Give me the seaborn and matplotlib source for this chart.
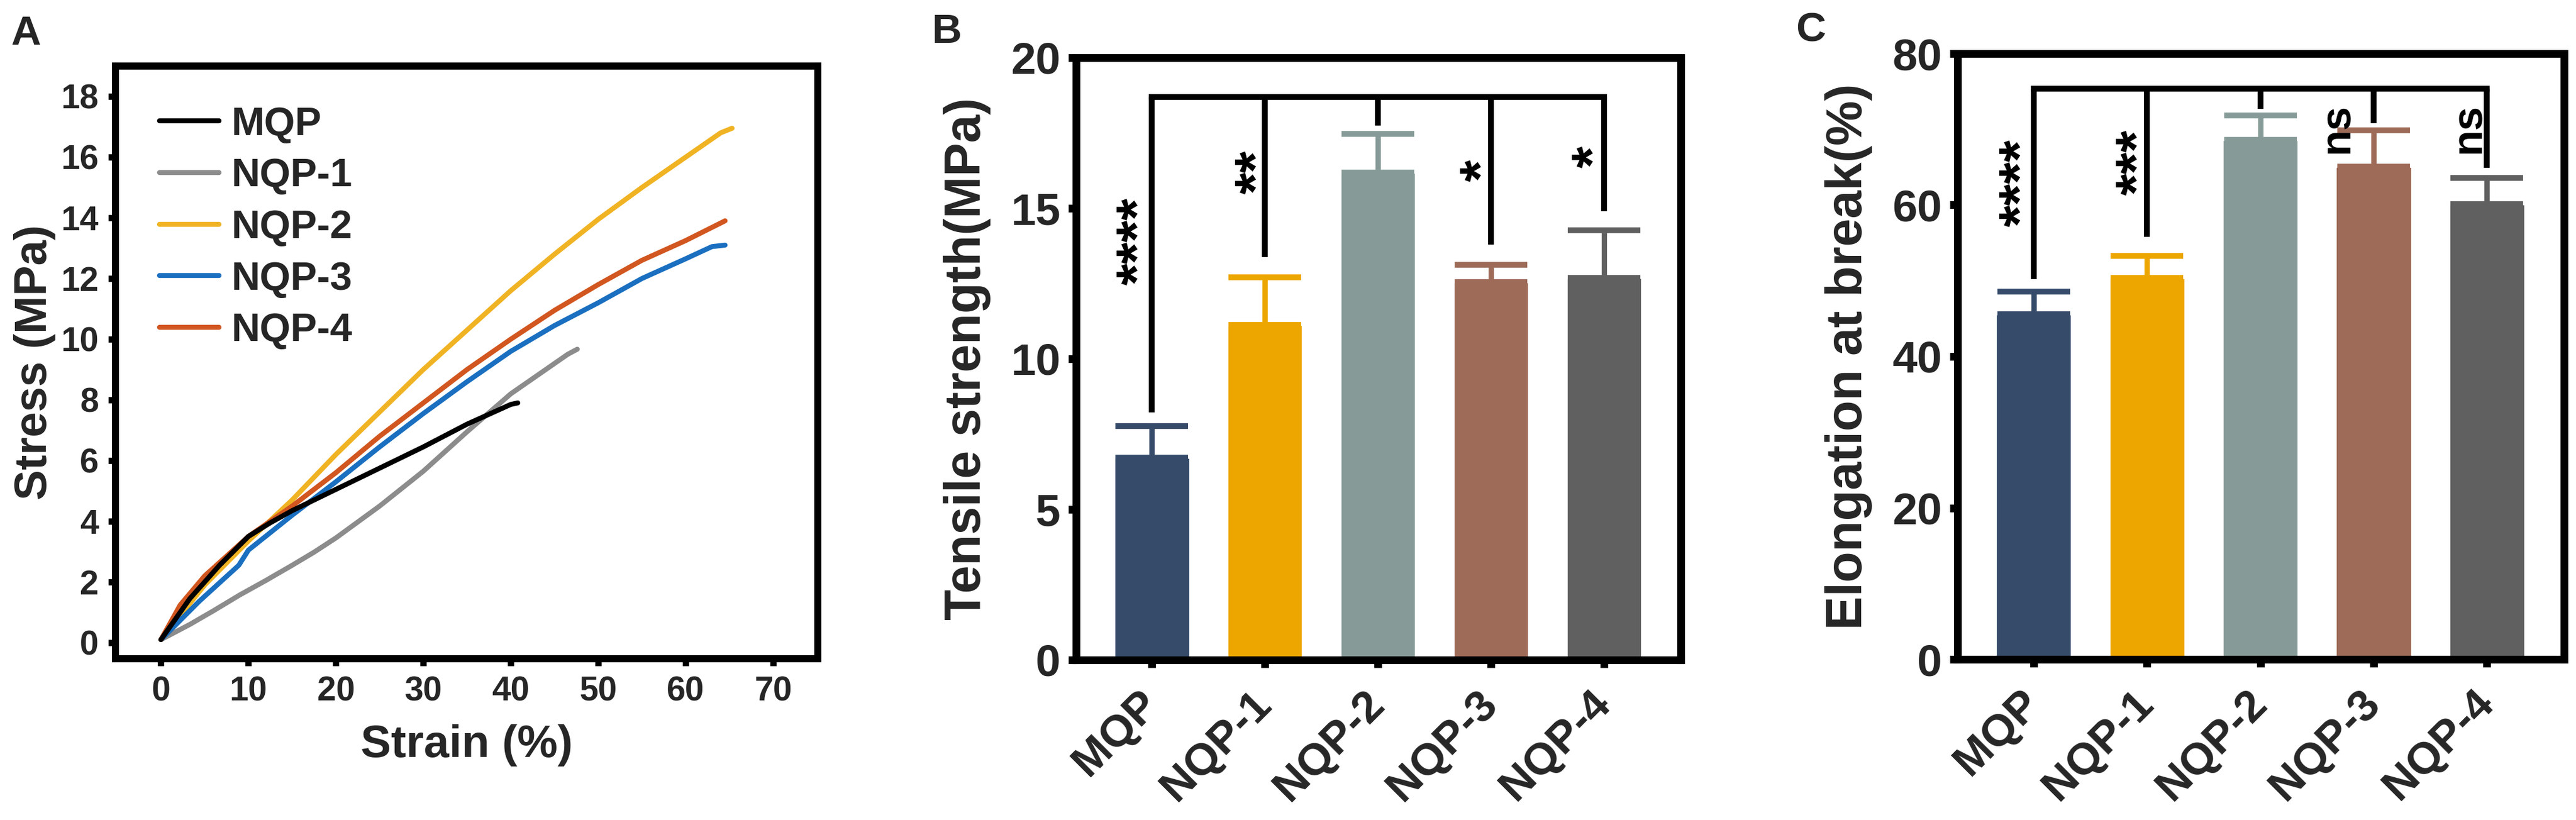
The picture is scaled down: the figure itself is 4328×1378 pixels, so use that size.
import matplotlib
matplotlib.use("Agg")
import matplotlib.pyplot as plt
import seaborn as sns
import numpy as np
import pandas as pd

sns.set_theme(style="ticks")
plt.rcParams["font.family"] = ["Liberation Sans", "DejaVu Sans"]
plt.rcParams["font.weight"] = "bold"
plt.rcParams["axes.labelweight"] = "bold"

# ---- panel A: stress-strain curves ----
samples = ["MQP", "NQP-1", "NQP-2", "NQP-3", "NQP-4"]

mqp_strain = [0, 3.3, 6.7, 10, 12.5, 15, 20, 25, 30, 35, 40, 40.8]
mqp_stress = [0.1, 1.45, 2.55, 3.5, 3.95, 4.35, 5.05, 5.75, 6.45, 7.2, 7.85, 7.9]

nqp1_strain = [0, 3.3, 6, 9, 12, 15, 17.5, 20, 25, 30, 35, 40, 45, 46.5, 47.6]
nqp1_stress = [0.1, 0.6, 1.05, 1.57, 2.05, 2.55, 2.98, 3.45, 4.5, 5.65, 6.95, 8.2, 9.2, 9.5, 9.67]

nqp2_strain = [0, 2.5, 5, 10, 15, 20, 25, 30, 35, 40, 45, 50, 55, 60, 64, 65.3]
nqp2_stress = [0.1, 1.0, 1.9, 3.35, 4.7, 6.2, 7.6, 9.0, 10.3, 11.6, 12.8, 13.95, 15.0, 16.0, 16.8, 16.95]

nqp3_strain = [0, 4.4, 8.9, 10, 15, 20, 25, 30, 35, 40, 45, 50, 55, 60, 63, 64.5]
nqp3_stress = [0.1, 1.37, 2.55, 3.05, 4.2, 5.3, 6.45, 7.55, 8.6, 9.6, 10.45, 11.2, 12.0, 12.65, 13.05, 13.1]

nqp4_strain = [0, 2.2, 5, 10, 15, 20, 25, 30, 35, 40, 45, 50, 55, 60, 64.5]
nqp4_stress = [0.1, 1.24, 2.2, 3.5, 4.5, 5.6, 6.8, 7.9, 9.0, 10.0, 10.95, 11.8, 12.6, 13.25, 13.9]

line_colors = {"MQP": "#000000", "NQP-1": "#8c8c8c", "NQP-2": "#f0b323",
               "NQP-3": "#1a6fc0", "NQP-4": "#d2561f"}

# ---- panels B and C: bar data (mean, upper SD) ----
tensile_mean = [6.72, 11.13, 16.19, 12.55, 12.69]
tensile_sd = [1.05, 1.57, 1.28, 0.58, 1.57]
elong_mean = [45.6, 50.4, 68.6, 65.1, 60.1]
elong_sd = [3.0, 2.9, 3.2, 4.8, 3.5]

bar_colors = {"MQP": "#364b69", "NQP-1": "#eda600", "NQP-2": "#869b97",
              "NQP-3": "#9e6b58", "NQP-4": "#606060"}

# significance brackets: common bar height, drop ends, labels
b_bracket = 18.7
b_drop_end = [8.22, 13.38, 17.75, 13.8, 14.9]
b_sig = ["****", "**", None, "*", "*"]
b_sig_y = [13.9, 16.2, None, 16.25, 16.7]
b_sig_dx = [-0.097, -0.05, None, -0.06, -0.07]

c_bracket = 75.4
c_drop_end = [50.2, 55.8, 72.7, 70.8, 64.9]
c_sig = ["****", "***", None, "ns", "ns"]
c_sig_y = [62.9, 65.6, None, 70.1, 70.1]
c_sig_dx = [-0.085, -0.06, None, -0.32, -0.16]

W, H, DPI = 4328, 1378, 200
fig = plt.figure(figsize=(W / DPI, H / DPI), dpi=DPI)


def frac(l, r, t, b):
    return [l / W, 1 - b / H, (r - l) / W, (b - t) / H]


axA = fig.add_axes(frac(194, 1374, 111, 1107))
axB = fig.add_axes(frac(1808, 2824, 97, 1109))
axC = fig.add_axes(frac(3289, 4308, 90, 1108))

# ---- A ----
curves = pd.concat([
    pd.DataFrame({"strain": mqp_strain, "stress": mqp_stress, "sample": "MQP"}),
    pd.DataFrame({"strain": nqp1_strain, "stress": nqp1_stress, "sample": "NQP-1"}),
    pd.DataFrame({"strain": nqp2_strain, "stress": nqp2_stress, "sample": "NQP-2"}),
    pd.DataFrame({"strain": nqp3_strain, "stress": nqp3_stress, "sample": "NQP-3"}),
    pd.DataFrame({"strain": nqp4_strain, "stress": nqp4_stress, "sample": "NQP-4"}),
], ignore_index=True)

draw_order = ["NQP-1", "NQP-2", "NQP-3", "NQP-4", "MQP"]
for s in draw_order:
    sns.lineplot(data=curves[curves["sample"] == s], x="strain", y="stress",
                 color=line_colors[s], lw=3.0, sort=False, estimator=None,
                 ax=axA, solid_capstyle="round", label=s)

handles = {h.get_label(): h for h in axA.get_lines()}
axA.legend([handles[s] for s in samples], samples, loc="upper left",
           bbox_to_anchor=(0.063, 0.932), frameon=False,
           handlelength=1.5, handletextpad=0.3, labelspacing=0.37,
           borderpad=0, borderaxespad=0, prop={"weight": "bold", "size": 24})

axA.set_xlim(-5.2, 75.1)
axA.set_ylim(-0.53, 19.0)
axA.set_xticks(range(0, 71, 10))
axA.set_yticks(range(0, 19, 2))
axA.set_xlabel("Strain (%)", fontsize=27.5, fontweight="bold", labelpad=10)
axA.set_ylabel("Stress (MPa)", fontsize=27.5, fontweight="bold", labelpad=3)
for sp in axA.spines.values():
    sp.set_linewidth(4.3)
    sp.set_color("black")
axA.tick_params(axis="both", direction="out", length=4.3, width=3.8,
                labelsize=20.5, pad=6, color="black")
for lab in axA.get_xticklabels() + axA.get_yticklabels():
    lab.set_fontweight("bold")


# ---- B and C ----
def bar_panel(ax, means, sds, ylim, yticks, ylabel, bracket, drops, sig, sig_y, sig_dx):
    df = pd.DataFrame({"sample": samples, "value": means})
    sns.barplot(data=df, x="sample", y="value", hue="sample", palette=bar_colors,
                order=samples, width=0.667, errorbar=None, legend=False,
                saturation=1, ax=ax)
    for i, s in enumerate(samples):
        ax.errorbar(i, means[i], yerr=[[0], [sds[i]]], fmt="none",
                    ecolor=bar_colors[s], elinewidth=3.2, capsize=22,
                    capthick=3.5, zorder=3)
    ax.plot([0, 4], [bracket, bracket], color="black", lw=3.5,
            solid_capstyle="projecting", zorder=4)
    for i in range(5):
        ax.plot([i, i], [drops[i], bracket], color="black", lw=3.5,
                solid_capstyle="butt", zorder=4)
        if sig[i] is not None:
            ax.text(i + sig_dx[i], sig_y[i], sig[i], rotation=90,
                    ha="center", va="center",
                    fontsize=26 if sig[i] == "ns" else 34,
                    fontweight="bold", color="black")
    ax.set_xlim(-0.67, 4.68)
    ax.set_ylim(*ylim)
    ax.set_yticks(yticks)
    ax.set_xlabel("")
    ax.set_ylabel(ylabel, fontsize=30.5, fontweight="bold", labelpad=12)
    for sp in ax.spines.values():
        sp.set_linewidth(4.7)
        sp.set_color("black")
    ax.tick_params(axis="both", direction="out", length=4.7, width=4.7,
                   labelsize=27, color="black")
    ax.tick_params(axis="y", pad=4.7)
    ax.tick_params(axis="x", pad=18)
    for lab in ax.get_yticklabels():
        lab.set_fontweight("bold")
    for lab in ax.get_xticklabels():
        lab.set_fontweight("bold")
        lab.set_rotation(45)
        lab.set_ha("right")
        lab.set_va("center")
        lab.set_rotation_mode("anchor")


bar_panel(axB, tensile_mean, tensile_sd, (0, 20), [0, 5, 10, 15, 20],
          "Tensile strength(MPa)", b_bracket, b_drop_end, b_sig, b_sig_y, b_sig_dx)
bar_panel(axC, elong_mean, elong_sd, (0, 80), [0, 20, 40, 60, 80],
          "Elongation at break(%)", c_bracket, c_drop_end, c_sig, c_sig_y, c_sig_dx)

# panel letters
for letter, x, yb in [("A", 18, 75), ("B", 1565, 72), ("C", 3017, 70)]:
    fig.text(x / W, 1 - yb / H, letter, fontsize=25, fontweight="bold",
             va="baseline", ha="left")

fig.savefig("out.png", dpi=DPI)
